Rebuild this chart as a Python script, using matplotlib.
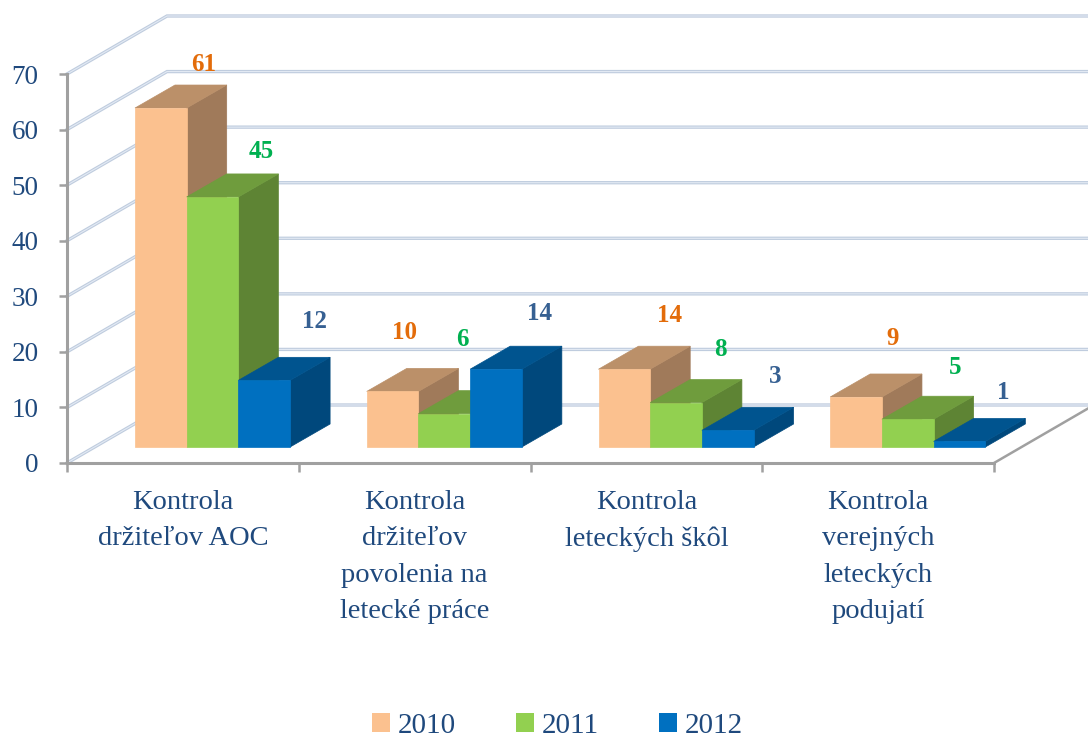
# Grouped pseudo-3D bar chart, inspections per year
import matplotlib
matplotlib.use('Agg')
import matplotlib.pyplot as plt
from matplotlib.patches import Patch

categories = ['Kontrola\ndržiteľov AOC',
              'Kontrola\ndržiteľov\npovolenia na\nletecké práce',
              'Kontrola\nleteckých škôl',
              'Kontrola\nverejných\nleteckých\npodujatí']
years = ['2010', '2011', '2012']
values_2010 = [61, 10, 14, 9]
values_2011 = [45, 6, 8, 5]
values_2012 = [12, 14, 3, 1]
y_ticks = [0, 10, 20, 30, 40, 50, 60, 70]

# front, top and side colour of each series, then the label colour
front_colors = ['#FBC18F', '#92D050', '#0070C0']
top_colors = ['#BB9069', '#6F9C3D', '#00548F']
side_colors = ['#A07A5A', '#5E8434', '#00487C']
label_colors = ['#E36C0A', '#00B050', '#366092']
text_color = '#1F497D'
axis_color = '#A0A0A0'

# hand placed label offsets from the front left corner of the bar top, in pixels
label_offsets = [[(69, 44), (74, 45), (76, 59)],
                 [(38, 59), (44, 74), (69, 56)],
                 [(71, 54), (70, 53), (73, 54)],
                 [(62, 58), (73, 52), (70, 49)]]

W, H = 1088, 738
PX_X = 927 / 4    # pixels per category
PX_Y = 389 / 70   # pixels per value unit

WALL_DX, WALL_DY = 100 / PX_X, 58 / PX_Y      # depth of the chart box
BAR_DX, BAR_DY = 40 / PX_X, 23 / PX_Y         # depth of a bar
BASE_Y = 16 / PX_Y                            # bars stand a bit behind the front edge
GROUP_X = 68 / PX_X
BAR_W = 51.7 / PX_X

plt.rcParams['font.family'] = ['Liberation Serif', 'DejaVu Serif']

fig = plt.figure(figsize=(W / 100, H / 100), dpi=100)
ax = fig.add_axes([67 / W, (H - 463) / H, 927 / W, 389 / H])
ax.set_xlim(0, 4)
ax.set_ylim(0, 70)
ax.patch.set_visible(False)


def draw_bar(x, value, front, top, side):
    y0, y1 = BASE_Y, BASE_Y + value
    x1 = x + BAR_W
    ax.fill([x1, x1 + BAR_DX, x1 + BAR_DX, x1],
            [y0, y0 + BAR_DY, y1 + BAR_DY, y1], facecolor=side, edgecolor=side,
            linewidth=0.5, clip_on=False, zorder=2)
    ax.fill([x, x + BAR_DX, x1 + BAR_DX, x1],
            [y1, y1 + BAR_DY, y1 + BAR_DY, y1], facecolor=top, edgecolor=top,
            linewidth=0.5, clip_on=False, zorder=2)
    ax.fill([x, x1, x1, x], [y0, y0, y1, y1], facecolor=front, edgecolor=front,
            linewidth=0.5, clip_on=False, zorder=2)


# back wall and side wall grid lines
for v in y_ticks:
    xs = [0, WALL_DX, 4 + WALL_DX]
    ys = [v, v + WALL_DY, v + WALL_DY]
    ax.plot(xs, ys, color='#BFCCDE', lw=2.4, clip_on=False, zorder=1, solid_joinstyle='miter')
    ax.plot(xs, ys, color='#E3EAF4', lw=0.8, clip_on=False, zorder=1, solid_joinstyle='miter')

# right edge of the floor
ax.plot([4, 4 + WALL_DX], [0, WALL_DY], color=axis_color, lw=1.8, clip_on=False, zorder=1)

series = [values_2010, values_2011, values_2012]
for c in range(len(categories)):
    for s, vals in enumerate(series):
        x = c + GROUP_X + s * BAR_W
        draw_bar(x, vals[c], front_colors[s], top_colors[s], side_colors[s])
        ax.annotate(str(vals[c]), xy=(x, BASE_Y + vals[c]),
                    xytext=(label_offsets[c][s][0] * 0.72, label_offsets[c][s][1] * 0.72),
                    textcoords='offset points', ha='center', va='center',
                    fontsize=18, fontweight='bold', color=label_colors[s],
                    annotation_clip=False, zorder=3)

for name in ['top', 'right']:
    ax.spines[name].set_visible(False)
for name in ['left', 'bottom']:
    ax.spines[name].set_color(axis_color)
    ax.spines[name].set_linewidth(2.2)

ax.set_yticks(y_ticks)
ax.tick_params(axis='y', length=5.5, width=1.8, color=axis_color, pad=15,
               labelsize=19.5, labelcolor=text_color)
ax.set_xticks(range(5))
ax.set_xticklabels([])
ax.tick_params(axis='x', which='major', length=6.5, width=1.8, color=axis_color)
ax.set_xticks([c + 0.5 for c in range(4)], minor=True)
ax.set_xticklabels(categories, minor=True, fontsize=20.5, color=text_color, linespacing=1.6)
ax.tick_params(axis='x', which='minor', length=0, pad=19.5)

handles = [Patch(facecolor=front_colors[s], label=years[s]) for s in range(3)]
fig.legend(handles=handles, loc='lower center', bbox_to_anchor=(0.5124, -0.037), ncol=3,
           frameon=False, fontsize=21, labelcolor=text_color, handlelength=0.62,
           handleheight=0.62, handletextpad=0.28, columnspacing=2.05)

fig.savefig('out.png', dpi=100)
